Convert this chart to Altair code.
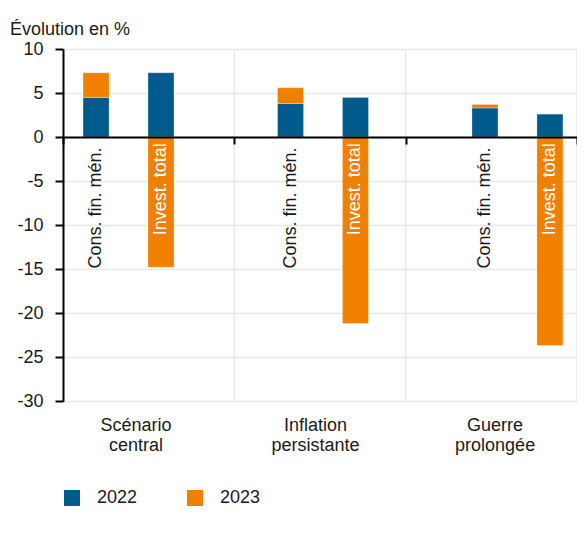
import altair as alt
import pandas as pd

# ---- data ----
scenarios = ["Scénario central", "Inflation persistante", "Guerre prolongée"]
items = ["Cons. fin. mén.", "Invest. total"]
years = ["2022", "2023"]
cons_2022 = [4.5, 3.8, 3.3]
cons_2023 = [2.8, 1.8, 0.4]
invest_2022 = [7.3, 4.5, 2.6]
invest_2023 = [-14.8, -21.2, -23.7]
y_ticks = [-30, -25, -20, -15, -10, -5, 0, 5, 10]

# ---- layout / style ----
BLUE = "#005a8c"
ORANGE = "#f08100"
GRID = "#e8e8e8"
FONT = "Liberation Sans"
W, H = 514, 352
Y_MIN, Y_MAX = -30, 10
BAR_W = 0.152


def bar_center(i, j):
    return 0.193 + 1.135 * i + 0.379 * j


bar_rows, lab_rows = [], []
for i, s in enumerate(scenarios):
    pairs = [(cons_2022[i], cons_2023[i]), (invest_2022[i], invest_2023[i])]
    for j, (v22, v23) in enumerate(pairs):
        c = bar_center(i, j)
        bar_rows.append(dict(scen=s, item=items[j], year=years[0],
                             x=c - BAR_W / 2, x2=c + BAR_W / 2, y=0, y2=v22))
        if (v23 >= 0) == (v22 >= 0):
            base = v22
        else:
            base = 0
        bar_rows.append(dict(scen=s, item=items[j], year=years[1],
                             x=c - BAR_W / 2, x2=c + BAR_W / 2, y=base, y2=base + v23))
        lab_rows.append(dict(item=items[j], x=c, y=-1.2 if j == 0 else -0.7,
                             col="#1a1a1a" if j == 0 else "white"))

bars_df = pd.DataFrame(bar_rows)
labs_df = pd.DataFrame(lab_rows)
cat_df = pd.DataFrame(dict(
    x=[0.426 + 1.048 * i for i in range(len(scenarios))],
    y=[Y_MIN] * len(scenarios),
    txt=[s.split(" ", 1) for s in scenarios],
))
vgrid_df = pd.DataFrame(dict(x=list(range(1, len(scenarios) + 1))))

xs = alt.Scale(domain=[0, len(scenarios)], nice=False, zero=False)
ys = alt.Scale(domain=[Y_MIN, Y_MAX], nice=False, zero=False)

zero_offset = -H * (0 - Y_MIN) / (Y_MAX - Y_MIN)

vgrid = alt.Chart(vgrid_df).mark_rule(color=GRID, strokeWidth=1.5).encode(
    x=alt.X("x:Q", scale=xs),
    y=alt.Y(datum=Y_MIN, scale=ys),
    y2=alt.Y2(datum=Y_MAX),
)

bars = alt.Chart(bars_df).mark_bar(stroke="white", strokeWidth=0.6, strokeOpacity=0.5).encode(
    x=alt.X("x:Q", scale=xs, axis=alt.Axis(
        values=list(range(0, len(scenarios) + 1)), labels=False, title=None,
        tickSize=7, tickWidth=2, tickColor="black", domainColor="black",
        domainWidth=2, grid=False, offset=zero_offset, zindex=1)),
    x2="x2:Q",
    y=alt.Y("y:Q", scale=ys, axis=alt.Axis(
        values=y_ticks, title=None, tickSize=8, tickWidth=2, tickColor="black",
        domainColor="black", domainWidth=2, labelFontSize=18, labelColor="#1a1a1a",
        labelPadding=12, labelFont=FONT, grid=True, gridColor=GRID, gridWidth=1.5,
        labelExpr="toString(datum.value)")),
    y2="y2:Q",
    color=alt.Color("year:N", scale=alt.Scale(domain=years, range=[BLUE, ORANGE]),
                    legend=alt.Legend(title=None, orient="none", legendX=0, legendY=440,
                                      direction="horizontal", symbolType="square",
                                      symbolSize=256, symbolStrokeWidth=0,
                                      labelFontSize=18, labelFont=FONT, labelColor="#1a1a1a",
                                      labelOffset=16, columnPadding=48)),
)

labels = alt.Chart(labs_df).mark_text(
    angle=270, align="right", baseline="middle", fontSize=18, font=FONT
).encode(
    x=alt.X("x:Q", scale=xs),
    y=alt.Y("y:Q", scale=ys),
    text="item:N",
    color=alt.Color("col:N", scale=None, legend=None),
)

cats = alt.Chart(cat_df).mark_text(
    align="center", baseline="top", fontSize=18, font=FONT, color="#1a1a1a",
    dy=16, lineHeight=20
).encode(
    x=alt.X("x:Q", scale=xs),
    y=alt.Y("y:Q", scale=ys),
    text="txt",
)

chart = alt.layer(vgrid, bars, labels, cats).properties(
    width=W, height=H,
    autosize=alt.AutoSizeParams(type="none"),
    padding={"left": 55, "top": 41, "right": 0, "bottom": 118},
    title=alt.TitleParams("Évolution en %", anchor="start", frame="group", dx=-53,
                          fontSize=18, fontWeight="normal", font=FONT,
                          color="#1a1a1a", offset=1),
    background="white",
).configure_view(stroke=None)

chart.save("out.html", embed_options={"renderer": "svg", "actions": False})
